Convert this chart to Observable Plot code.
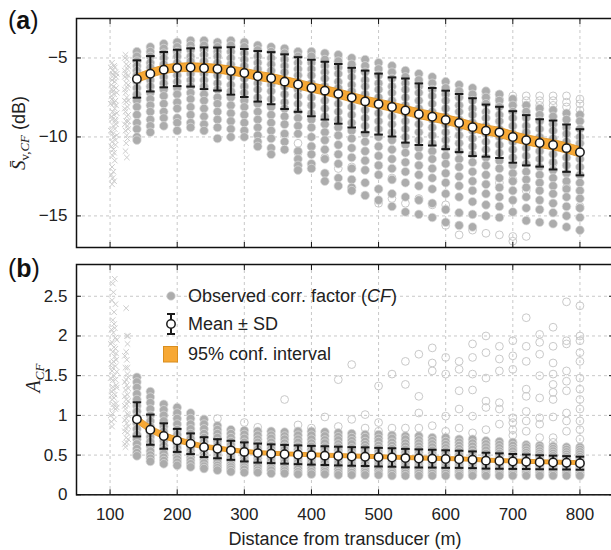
<!DOCTYPE html>
<html><head><meta charset="utf-8">
<script src="https://cdn.jsdelivr.net/npm/d3@7"></script>
<script src="https://cdn.jsdelivr.net/npm/@observablehq/plot@0.6"></script>
<style>
body{margin:0;background:#fff;}
#chart{position:relative;width:611px;height:550px;overflow:hidden;}
#chart svg{display:block;overflow:hidden;}
</style></head><body><div id="chart"></div>
<script>
// ---------- data ----------
const distances = [140,160,180,200,220,240,260,280,300,320,340,360,380,400,420,440,460,480,500,520,540,560,580,600,620,640,660,680,700,720,740,760,780,800];
const xTicks = [100,200,300,400,500,600,700,800];
const yTicksA = [-15,-10,-5];
const yTicksB = [0,0.5,1,1.5,2,2.5];

const meanA = [-6.33,-6.0,-5.74,-5.63,-5.6,-5.65,-5.7,-5.82,-5.95,-6.16,-6.28,-6.5,-6.68,-6.9,-7.07,-7.27,-7.51,-7.75,-7.92,-8.1,-8.33,-8.56,-8.72,-8.92,-9.12,-9.38,-9.6,-9.71,-10.0,-10.21,-10.38,-10.51,-10.71,-10.97];
const sdA = [1.18,1.12,1.12,1.15,1.21,1.32,1.36,1.5,1.52,1.6,1.65,1.73,1.73,1.79,1.83,1.89,1.89,1.95,1.93,1.87,2.03,1.95,1.82,1.85,1.84,1.83,1.65,1.62,1.63,1.59,1.5,1.55,1.5,1.46];
const ciA = [0.27,0.27,0.27,0.27,0.28,0.28,0.28,0.28,0.29,0.29,0.29,0.3,0.3,0.3,0.3,0.3,0.3,0.3,0.3,0.3,0.3,0.31,0.31,0.31,0.31,0.31,0.31,0.32,0.32,0.32,0.32,0.32,0.33,0.33];

const meanB = [0.95,0.82,0.74,0.685,0.643,0.60,0.58,0.56,0.54,0.525,0.517,0.51,0.504,0.498,0.493,0.488,0.483,0.48,0.474,0.47,0.462,0.458,0.455,0.45,0.447,0.441,0.43,0.425,0.42,0.416,0.41,0.407,0.403,0.398];
const sdB = [0.215,0.19,0.16,0.145,0.13,0.125,0.12,0.12,0.12,0.12,0.118,0.118,0.118,0.118,0.118,0.118,0.117,0.117,0.117,0.116,0.116,0.114,0.112,0.11,0.108,0.105,0.1,0.097,0.094,0.091,0.088,0.086,0.084,0.082];
const ciB = [0.05,0.045,0.04,0.036,0.033,0.03,0.028,0.027,0.026,0.026,0.025,0.025,0.025,0.025,0.025,0.025,0.025,0.025,0.025,0.025,0.025,0.025,0.025,0.025,0.025,0.025,0.025,0.025,0.025,0.025,0.025,0.025,0.025,0.025];

// observed CF (filled), one list per distance
const filledA = [
[-4.6,-4.9,-5.2,-5.5,-5.8,-6.1,-6.5,-6.9,-7.3,-7.7,-8.1,-8.6,-9.1,-9.5,-10.0,-10.2],
[-4.3,-4.6,-4.9,-5.3,-5.6,-6.0,-6.4,-6.8,-7.2,-7.6,-8.0,-8.4,-8.9,-9.3,-9.7],
[-4.1,-4.4,-4.7,-5.0,-5.4,-5.8,-6.2,-6.6,-7.0,-7.4,-7.9,-8.4,-8.8,-9.3],
[-4.0,-4.3,-4.6,-4.9,-5.3,-5.7,-6.1,-6.5,-6.9,-7.3,-7.8,-8.2,-8.8,-9.1,-9.6],
[-3.9,-4.2,-4.5,-4.9,-5.2,-5.6,-6.0,-6.4,-6.8,-7.2,-7.6,-8.1,-8.6,-9.1,-9.4],
[-3.9,-4.2,-4.5,-4.8,-5.2,-5.6,-6.0,-6.4,-6.8,-7.3,-7.7,-8.2,-8.7,-9.2,-9.6],
[-4.0,-4.3,-4.6,-4.9,-5.3,-5.7,-6.1,-6.6,-7.0,-7.5,-7.9,-8.4,-8.9,-9.4,-10.1],
[-3.9,-4.2,-4.6,-5.0,-5.4,-5.8,-6.2,-6.7,-7.1,-7.5,-8.0,-8.5,-9.0,-9.5,-10.0],
[-4.0,-4.3,-4.7,-5.1,-5.5,-5.9,-6.3,-6.8,-7.2,-7.7,-8.1,-8.6,-9.1,-9.6,-10.0],
[-4.2,-4.5,-4.9,-5.3,-5.7,-6.1,-6.6,-7.0,-7.5,-7.9,-8.4,-8.9,-9.4,-9.9,-10.3,-10.6],
[-4.3,-4.6,-5.0,-5.4,-5.8,-6.3,-6.7,-7.1,-7.6,-8.1,-8.6,-9.1,-9.6,-10.1,-10.7,-11.1],
[-4.4,-4.7,-5.1,-5.5,-5.9,-6.4,-6.8,-7.3,-7.8,-8.2,-8.7,-9.2,-9.8,-10.3,-10.8],
[-4.6,-4.9,-5.3,-5.7,-6.1,-6.5,-7.0,-7.4,-7.9,-8.4,-8.8,-9.3,-9.8,-10.9,-11.4,-11.8,-12.1],
[-4.6,-4.9,-5.3,-5.7,-6.1,-6.6,-7.0,-7.5,-8.0,-8.5,-8.9,-9.4,-10.0,-10.6,-11.1,-11.7,-12.0],
[-4.7,-5.1,-5.5,-5.9,-6.3,-6.8,-7.2,-7.7,-8.2,-8.7,-9.2,-9.7,-10.2,-10.8,-11.4,-12.3,-12.8],
[-4.8,-5.2,-5.6,-6.0,-6.5,-6.9,-7.4,-7.9,-8.4,-8.9,-9.4,-9.9,-10.5,-11.1,-11.7,-12.6,-13.1],
[-5.0,-5.4,-5.8,-6.2,-6.7,-7.1,-7.6,-8.1,-8.6,-9.1,-9.6,-10.1,-10.7,-11.3,-12.0,-12.7,-13.2,-13.4],
[-5.1,-5.5,-5.9,-6.4,-6.8,-7.3,-7.8,-8.3,-8.8,-9.3,-9.8,-10.3,-10.9,-11.5,-12.1,-12.9,-13.7],
[-5.3,-5.7,-6.1,-6.6,-7.0,-7.5,-8.0,-8.5,-9.0,-9.5,-10.0,-10.6,-11.2,-11.8,-12.4,-13.3,-14.0],
[-5.5,-5.9,-6.3,-6.8,-7.2,-7.7,-8.2,-8.7,-9.2,-9.7,-10.2,-10.8,-11.4,-12.0,-12.7,-13.6,-14.4],
[-5.8,-6.2,-6.6,-7.0,-7.5,-8.0,-8.5,-9.0,-9.5,-10.0,-10.5,-11.0,-11.6,-12.2,-12.9,-13.8,-14.75],
[-6.0,-6.4,-6.8,-7.2,-7.7,-8.2,-8.7,-9.2,-9.7,-10.2,-10.7,-11.2,-11.8,-12.4,-13.1,-14.0,-14.9],
[-6.2,-6.6,-7.0,-7.4,-7.9,-8.4,-8.9,-9.4,-9.9,-10.4,-10.9,-11.4,-12.0,-12.6,-13.3,-14.2,-15.1],
[-6.5,-6.9,-7.3,-7.7,-8.2,-8.7,-9.2,-9.7,-10.2,-10.7,-11.2,-11.7,-12.3,-12.9,-13.6,-14.6,-15.4],
[-6.7,-7.1,-7.5,-8.0,-8.4,-8.9,-9.4,-9.9,-10.4,-10.9,-11.4,-11.9,-12.5,-13.1,-13.8,-14.8,-15.6],
[-6.9,-7.3,-7.7,-8.2,-8.6,-9.1,-9.6,-10.1,-10.6,-11.1,-11.6,-12.2,-12.8,-13.4,-14.1,-14.9,-15.7],
[-7.1,-7.5,-7.9,-8.4,-8.8,-9.3,-9.8,-10.3,-10.8,-11.3,-11.8,-12.4,-13.0,-13.6,-14.3,-15.0],
[-7.3,-7.7,-8.1,-8.6,-9.0,-9.5,-10.0,-10.5,-11.0,-11.5,-12.0,-12.6,-13.2,-13.8,-14.4,-15.1],
[-7.6,-8.0,-8.4,-8.8,-9.3,-9.8,-10.3,-10.8,-11.3,-11.8,-12.3,-12.8,-13.4,-14.0,-14.75],
[-8.0,-8.4,-8.8,-9.3,-9.7,-10.2,-10.7,-11.2,-11.7,-12.2,-12.7,-13.2,-13.8,-14.5,-15.3],
[-8.2,-8.6,-9.0,-9.5,-10.0,-10.4,-10.9,-11.4,-11.9,-12.4,-12.9,-13.4,-14.0,-14.6,-15.4],
[-8.3,-8.7,-9.2,-9.6,-10.1,-10.6,-11.1,-11.6,-12.1,-12.6,-13.1,-13.6,-14.2,-14.8,-15.5],
[-8.5,-8.9,-9.4,-9.8,-10.3,-10.8,-11.3,-11.8,-12.3,-12.8,-13.3,-13.8,-14.4,-15.0,-15.7],
[-8.6,-9.0,-9.5,-10.0,-10.4,-10.9,-11.4,-11.9,-12.4,-12.9,-13.4,-13.9,-14.5,-15.1,-15.9]
];
const filledB = [
[1.48,1.42,1.35,1.27,1.2,1.12,1.05,0.98,0.9,0.83,0.76,0.7,0.64,0.58,0.53,0.49],
[1.3,1.23,1.16,1.08,1.0,0.93,0.86,0.79,0.73,0.67,0.61,0.55,0.5,0.46,0.42],
[1.14,1.07,1.0,0.93,0.86,0.8,0.74,0.68,0.62,0.57,0.52,0.47,0.43,0.39],
[1.1,1.03,0.96,0.89,0.82,0.76,0.7,0.64,0.59,0.54,0.49,0.45,0.41,0.37],
[1.03,0.96,0.89,0.83,0.77,0.71,0.66,0.61,0.56,0.51,0.47,0.43,0.39,0.35],
[0.95,0.89,0.83,0.77,0.72,0.67,0.62,0.57,0.52,0.48,0.44,0.4,0.36,0.33],
[0.87,0.82,0.77,0.72,0.67,0.62,0.57,0.53,0.49,0.45,0.41,0.37,0.34,0.31],
[0.82,0.77,0.72,0.67,0.63,0.58,0.54,0.5,0.46,0.42,0.38,0.35,0.32,0.29],
[0.81,0.76,0.71,0.66,0.62,0.58,0.54,0.5,0.46,0.42,0.38,0.35,0.32,0.28],
[0.8,0.75,0.7,0.66,0.62,0.58,0.54,0.5,0.46,0.42,0.38,0.35,0.31,0.28],
[0.8,0.75,0.71,0.66,0.62,0.58,0.54,0.5,0.46,0.42,0.38,0.34,0.31,0.27],
[0.79,0.74,0.7,0.65,0.61,0.57,0.53,0.49,0.45,0.41,0.37,0.33,0.3,0.27],
[0.8,0.75,0.7,0.66,0.61,0.57,0.53,0.49,0.45,0.41,0.37,0.33,0.29,0.26],
[0.8,0.75,0.7,0.65,0.61,0.57,0.53,0.49,0.45,0.41,0.37,0.33,0.29,0.26],
[0.79,0.74,0.69,0.65,0.6,0.56,0.52,0.48,0.44,0.4,0.36,0.32,0.29,0.26],
[0.78,0.73,0.69,0.64,0.6,0.56,0.52,0.48,0.44,0.4,0.36,0.32,0.28,0.25],
[0.77,0.72,0.68,0.64,0.59,0.55,0.51,0.47,0.43,0.39,0.35,0.31,0.28,0.25],
[0.76,0.72,0.67,0.63,0.59,0.55,0.51,0.47,0.43,0.39,0.35,0.31,0.28,0.25],
[0.76,0.71,0.67,0.62,0.58,0.54,0.5,0.46,0.42,0.38,0.34,0.31,0.27,0.25],
[0.75,0.71,0.66,0.62,0.58,0.54,0.5,0.46,0.42,0.38,0.34,0.3,0.27,0.24],
[0.74,0.7,0.65,0.61,0.57,0.53,0.49,0.45,0.41,0.37,0.34,0.3,0.27,0.24],
[0.74,0.69,0.65,0.61,0.57,0.53,0.49,0.45,0.41,0.37,0.33,0.3,0.27,0.24],
[0.72,0.68,0.64,0.6,0.56,0.52,0.48,0.44,0.4,0.36,0.33,0.3,0.27,0.24],
[0.72,0.67,0.63,0.59,0.55,0.51,0.47,0.43,0.4,0.36,0.33,0.3,0.27,0.24],
[0.7,0.66,0.62,0.58,0.54,0.5,0.46,0.43,0.39,0.36,0.32,0.29,0.26,0.24],
[0.7,0.65,0.61,0.57,0.53,0.49,0.46,0.42,0.39,0.35,0.32,0.29,0.26,0.24],
[0.68,0.64,0.6,0.56,0.52,0.49,0.45,0.42,0.38,0.35,0.32,0.29,0.26,0.24],
[0.67,0.63,0.59,0.55,0.52,0.48,0.45,0.41,0.38,0.35,0.32,0.29,0.26,0.24],
[0.66,0.62,0.58,0.55,0.51,0.48,0.44,0.41,0.38,0.35,0.32,0.29,0.26,0.24],
[0.63,0.6,0.56,0.53,0.5,0.47,0.44,0.41,0.38,0.35,0.32,0.29,0.26,0.24],
[0.62,0.59,0.55,0.52,0.49,0.46,0.43,0.4,0.37,0.34,0.31,0.28,0.26,0.24],
[0.61,0.58,0.55,0.52,0.49,0.46,0.43,0.4,0.37,0.34,0.31,0.28,0.26,0.24],
[0.6,0.57,0.54,0.51,0.48,0.45,0.42,0.39,0.36,0.34,0.31,0.28,0.26,0.24],
[0.6,0.57,0.54,0.51,0.48,0.45,0.42,0.39,0.36,0.33,0.31,0.28,0.26,0.24]
];

// excluded observations (open circles): [distance, value]
const hollowA = [[380,-10.4],[380,-11.0],[400,-10.6],[420,-11.3],[440,-12.0],[460,-11.9],[500,-13.3],[500,-14.2],[520,-12.6],[520,-13.9],[540,-14.2],[560,-13.9],[580,-14.3],[600,-14.3],[600,-15.6],[620,-16.2],[620,-7.1],[640,-15.9],[640,-7.4],[660,-7.3],[660,-7.8],[660,-16.1],[680,-7.3],[680,-7.6],[680,-8.0],[680,-16.2],[680,-12.9],[700,-7.4],[700,-7.7],[700,-16.3],[700,-16.6],[700,-12.7],[720,-7.4],[720,-7.7],[720,-8.0],[720,-16.3],[720,-13.4],[740,-7.4],[740,-7.7],[740,-8.0],[740,-12.9],[760,-7.4],[760,-7.7],[760,-8.0],[760,-11.7],[780,-7.4],[780,-7.8],[780,-8.1],[780,-13.2],[800,-7.6],[800,-7.9],[800,-8.3],[800,-8.6],[800,-14.4]];
const hollowB = [[260,0.96],[300,0.91],[320,0.85],[360,1.2],[380,0.88],[400,0.84],[420,0.98],[440,1.45],[440,0.86],[460,1.64],[460,0.95],[480,1.01],[480,0.84],[500,1.37],[500,0.91],[500,0.8],[520,1.52],[520,0.84],[540,1.68],[540,1.39],[540,0.84],[560,1.77],[560,1.24],[560,1.03],[560,0.84],[580,1.85],[580,1.66],[580,1.56],[580,0.87],[600,1.73],[600,1.52],[600,0.99],[600,0.8],[620,1.68],[620,1.58],[620,1.31],[620,1.08],[620,0.84],[640,1.9],[640,1.73],[640,1.52],[640,1.32],[640,0.99],[640,0.78],[660,2.0],[660,1.79],[660,1.47],[660,1.18],[660,1.1],[660,0.82],[680,1.87],[680,1.71],[680,1.56],[680,1.16],[680,1.08],[680,0.89],[700,1.94],[700,1.75],[700,1.58],[700,0.97],[700,0.91],[700,0.82],[700,0.75],[720,2.23],[720,1.87],[720,1.68],[720,1.33],[720,1.24],[720,1.05],[720,0.93],[720,0.8],[740,2.02],[740,1.92],[740,1.77],[740,1.5],[740,1.22],[740,0.97],[740,0.89],[740,0.72],[760,2.11],[760,1.87],[760,1.66],[760,1.52],[760,1.39],[760,1.29],[760,1.2],[760,0.98],[760,0.72],[760,0.66],[780,2.43],[780,1.94],[780,1.9],[780,1.56],[780,1.43],[780,1.31],[780,1.03],[780,0.93],[780,0.8],[800,2.38],[800,2.0],[800,1.94],[800,1.79],[800,1.68],[800,1.47],[800,1.33],[800,1.2],[800,1.08],[800,0.93],[800,0.82],[800,0.7]];

// near-field observations (crosses): [distance, value]
const nearA = [[103,-5.3],[106,-5.5],[104,-5.8],[108,-5.9],[105,-6.1],[103,-6.4],[107,-6.5],[105,-6.8],[109,-6.9],[104,-7.1],[106,-7.3],[103,-7.6],[108,-7.7],[105,-7.9],[107,-8.2],[104,-8.4],[106,-8.6],[103,-8.9],[108,-9.0],[105,-9.3],[107,-9.5],[104,-9.8],[106,-10.0],[103,-10.3],[108,-10.5],[105,-10.8],[104,-11.2],[107,-11.5],[103,-11.9],[105,-12.2],[104,-12.6],[103,-13.0],[109,-6.2],[109,-8.0],[103,-7.0],[107,-5.6],
[101,-5.6],[110,-6.0],[102,-6.7],[110,-7.2],[101,-7.9],[110,-8.5],[102,-8.7],[109,-9.2],[101,-9.6],[110,-9.9],[102,-10.6],[106,-11.0],[102,-7.4],[106,-6.3],[108,-8.9],[104,-6.0],[106,-7.8],[108,-10.2],[102,-12.4],[106,-12.8],
[123,-4.8],[125,-5.1],[124,-5.4],[126,-5.7],[123,-6.0],[125,-6.3],[124,-6.6],[126,-6.9],[123,-7.2],[125,-7.5],[124,-7.8],[126,-8.1],[123,-8.4],[125,-8.7],[124,-9.0],[126,-9.3],[123,-9.6],[125,-9.9],[124,-10.4],[123,-10.9],[125,-11.3],
[122,-5.0],[127,-5.5],[122,-6.2],[127,-6.7],[122,-7.0],[127,-7.7],[122,-8.2],[127,-8.6],[122,-9.2],[127,-9.5],[126,-10.1],[122,-5.8],[127,-6.1],[122,-7.7],[127,-9.0]];
const nearB = [[103,0.86],[106,0.95],[104,1.02],[108,1.08],[105,1.14],[103,1.2],[107,1.26],[105,1.32],[109,1.38],[104,1.44],[106,1.5],[103,1.56],[108,1.62],[105,1.68],[107,1.74],[104,1.8],[106,1.86],[103,1.92],[108,1.98],[105,2.04],[107,2.1],[104,2.2],[106,2.3],[103,2.45],[105,2.55],[104,2.66],[107,2.72],[109,1.15],[109,1.7],[103,1.3],
[101,1.0],[110,1.1],[102,1.25],[110,1.35],[101,1.47],[110,1.55],[102,1.65],[109,1.78],[101,1.9],[110,1.95],[102,2.08],[106,1.1],[104,1.6],[108,1.45],[106,1.22],[104,1.36],[108,1.84],[102,0.92],[106,2.15],[108,2.4],
[123,0.6],[125,0.66],[124,0.72],[126,0.78],[123,0.84],[125,0.9],[124,0.96],[126,1.02],[123,1.08],[125,1.14],[124,1.2],[126,1.26],[123,1.32],[125,1.38],[124,1.45],[126,1.52],[123,1.6],[125,1.7],[124,1.8],[126,1.9],[125,2.0],[124,2.35],
[122,0.64],[127,0.7],[122,0.8],[127,0.86],[122,0.94],[127,1.0],[122,1.12],[127,1.18],[122,1.24],[127,1.34],[122,1.42],[127,1.48],[126,1.6],[122,1.75],[127,2.0]];

const xTitle = "Distance from transducer (m)";
const legendLabels = ["Observed corr. factor (", "CF", ")", "Mean \u00b1 SD", "95% conf. interval"];

// ---------- styling ----------
const FONT = "'Liberation Sans', Arial, Helvetica, sans-serif";
const SERIF = "'Liberation Serif', 'DejaVu Serif', serif";
const C = {dot:"#acacac", dotEdge:"#dcdcdc", hollow:"#c9c9c9", cross:"#cdcdcd", bar:"#1a1a1a",
           band:"#f7a834", bandEdge:"#d98e1f", grid:"#c8c8c8", frame:"#111", text:"#222"};
const capSymbol = {draw(ctx, size){ const w = Math.sqrt(size/Math.PI); ctx.moveTo(-w,0); ctx.lineTo(w,0); }};
const minusFmt = d => d < 0 ? "\u2212" + (-d) : String(d);

function build(mean, sd, ci, filled, hollow, near) {
  const rec = distances.map((d,i)=>({d, m: mean[i], lo: mean[i]-sd[i], hi: mean[i]+sd[i], c1: mean[i]-ci[i], c2: mean[i]+ci[i]}));
  const obs = distances.flatMap((d,i)=> filled[i].map(v=>({d, v})));
  const caps = rec.flatMap(r=>[{d:r.d, v:r.lo},{d:r.d, v:r.hi}]);
  return [
    Plot.dot(near, {x: d=>d[0], y: d=>d[1], symbol:"times", r:2.6, stroke:C.cross, strokeWidth:1}),
    Plot.dot(hollow, {x: d=>d[0], y: d=>d[1], r:3.9, fill:"none", stroke:C.hollow, strokeWidth:1}),
    Plot.dot(obs, {x:"d", y:"v", r:4.3, fill:C.dot, stroke:C.dotEdge, strokeWidth:0.7}),
    Plot.areaY(rec, {x:"d", y1:"c1", y2:"c2", fill:C.band, stroke:C.bandEdge, strokeWidth:0.8, curve:"basis"}),
    Plot.ruleX(rec, {x:"d", y1:"lo", y2:"hi", stroke:C.bar, strokeWidth:2}),
    Plot.dot(caps, {x:"d", y:"v", symbol:capSymbol, r:4.3, fill:"none", stroke:C.bar, strokeWidth:2}),
    Plot.dot(rec, {x:"d", y:"m", r:4.2, fill:"white", stroke:C.bar, strokeWidth:1.5})
  ];
}

function frameMarks(yTicks, fmt, withXLabels) {
  return [
    Plot.axisX(xTicks, {anchor:"bottom", tickSize:-5, tickPadding: withXLabels ? 18 : 0, tickFormat: withXLabels ? (d=>String(d)) : (()=>""), label:null, fontSize:17, stroke:C.frame}),
    Plot.axisX(xTicks, {anchor:"top", tickSize:-5, tickFormat:()=>"", label:null, stroke:C.frame}),
    Plot.axisY(yTicks, {anchor:"left", tickSize:-5, tickPadding:14, tickFormat:fmt, label:null, fontSize:17, stroke:C.frame}),
    Plot.axisY(yTicks, {anchor:"right", tickSize:-5, tickFormat:()=>"", label:null, stroke:C.frame}),
    Plot.frame({stroke:C.frame, strokeWidth:1.5})
  ];
}

const style = {fontFamily: FONT, fontSize:"17px", color:C.text, background:"transparent", overflow:"hidden"};

const plotA = Plot.plot({
  width:611, height:250, marginLeft:76, marginRight:-2, marginTop:18, marginBottom:3,
  style,
  x:{domain:[50,850], label:null},
  y:{domain:[-17,-2.5], label:null},
  marks:[
    Plot.gridX(xTicks, {stroke:C.grid, strokeOpacity:1, strokeDasharray:"3,3"}),
    Plot.gridY(yTicksA, {stroke:C.grid, strokeOpacity:1, strokeDasharray:"3,3"}),
    ...build(meanA, sdA, ciA, filledA, hollowA, nearA),
    ...frameMarks(yTicksA, minusFmt, false)
  ]
});

const plotB = Plot.plot({
  width:611, height:300, marginLeft:76, marginRight:-2, marginTop:14, marginBottom:55.7,
  style,
  x:{domain:[50,850], label:null},
  y:{domain:[0,2.9], label:null},
  marks:[
    Plot.gridX(xTicks, {stroke:C.grid, strokeOpacity:1, strokeDasharray:"3,3"}),
    Plot.gridY(yTicksB, {stroke:C.grid, strokeOpacity:1, strokeDasharray:"3,3"}),
    ...build(meanB, sdB, ciB, filledB, hollowB, nearB),
    ...frameMarks(yTicksB, d=>String(d), true),
    Plot.text([xTitle], {frameAnchor:"bottom", dy:50, text:d=>d, fontSize:18, fill:C.text})
  ]
});

const root = document.getElementById("chart");
root.appendChild(plotA);
root.appendChild(plotB);

// ---------- panel letters, axis titles, legend ----------
function panelLetter(svg, letter, y) {
  const t = d3.select(svg).append("text").attr("x", 8).attr("y", y).attr("text-anchor","start")
    .attr("font-family", FONT).attr("font-size", 25).attr("fill", "#111");
  t.append("tspan").text("(");
  t.append("tspan").attr("font-weight","bold").text(letter);
  t.append("tspan").text(")");
}
panelLetter(plotA, "a", 29);
panelLetter(plotB, "b", 27);

// y title panel (a)
{
  const t = d3.select(plotA).append("text")
    .attr("transform","translate(25,133) rotate(-90)").attr("text-anchor","middle")
    .attr("font-family", FONT).attr("font-size", 18).attr("fill", C.text);
  t.append("tspan").attr("font-family", SERIF).attr("font-style","italic").attr("font-size", 19).text("S\u0304");
  t.append("tspan").attr("font-family", SERIF).attr("font-size", 13).attr("dy", 4).text("v,");
  t.append("tspan").attr("font-family", SERIF).attr("font-style","italic").attr("font-size", 13).text("CF");
  t.append("tspan").attr("dy", -4).text(" (dB)");
}
// y title panel (b)
{
  const t = d3.select(plotB).append("text")
    .attr("transform","translate(40,128) rotate(-90)").attr("text-anchor","middle")
    .attr("font-family", SERIF).attr("font-size", 20).attr("font-style","italic").attr("fill", C.text);
  t.append("tspan").text("A");
  t.append("tspan").attr("font-size", 13).attr("dy", 4).text("CF");
}
// legend in panel (b)
{
  const g = d3.select(plotB).append("g").attr("font-family", FONT).attr("font-size", 18).attr("fill", C.text).attr("text-anchor","start");
  g.append("circle").attr("cx",171).attr("cy",46).attr("r",4.3).attr("fill",C.dot).attr("stroke",C.dotEdge).attr("stroke-width",0.7);
  const t1 = g.append("text").attr("x",188).attr("y",46).attr("dy","0.35em");
  t1.append("tspan").text(legendLabels[0]);
  t1.append("tspan").attr("font-style","italic").text(legendLabels[1]);
  t1.append("tspan").text(legendLabels[2]);
  g.append("line").attr("x1",171).attr("x2",171).attr("y1",64).attr("y2",84).attr("stroke",C.bar).attr("stroke-width",2);
  g.append("line").attr("x1",167).attr("x2",175).attr("y1",64).attr("y2",64).attr("stroke",C.bar).attr("stroke-width",2);
  g.append("line").attr("x1",167).attr("x2",175).attr("y1",84).attr("y2",84).attr("stroke",C.bar).attr("stroke-width",2);
  g.append("circle").attr("cx",171).attr("cy",74).attr("r",4.2).attr("fill","white").attr("stroke",C.bar).attr("stroke-width",1.5);
  g.append("text").attr("x",188).attr("y",74).attr("dy","0.35em").text(legendLabels[3]);
  g.append("rect").attr("x",163.5).attr("y",96.5).attr("width",14).attr("height",15.5).attr("fill",C.band).attr("stroke",C.bandEdge).attr("stroke-width",1);
  g.append("text").attr("x",188).attr("y",104).attr("dy","0.35em").text(legendLabels[4]);
}
</script>
</body></html>
